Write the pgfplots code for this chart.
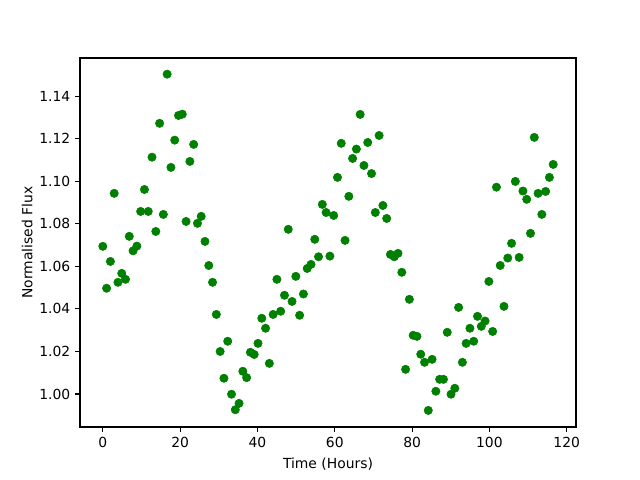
\documentclass[border=0pt]{standalone}
\usepackage{fontspec}
\setmainfont{DejaVu Sans}
\usepackage{pgfplots}
\pgfplotsset{compat=1.18}
\definecolor{mplgreen}{HTML}{008000}
\begin{document}
\fontsize{10}{12}\selectfont
\begin{tikzpicture}
\begin{axis}[
  scale only axis,
  width=357.12pt, height=265.68pt,
  xmin=-5.9, xmax=122.4,
  ymin=0.9845, ymax=1.1579,
  xtick={0,20,40,60,80,100,120},
  ytick={1.00,1.02,1.04,1.06,1.08,1.10,1.12,1.14},
  yticklabel style={/pgf/number format/.cd,fixed,fixed zerofill,precision=2},
  /pgf/number format/assume math mode=true,
  tick align=outside,
  xtick pos=left, ytick pos=left,
  major tick length=3.5pt,
  every tick/.style={black, line width=0.8pt},
  axis line style={line width=0.8pt},
  xlabel={Time (Hours)},
  ylabel={Normalised Flux},
  tick label style={font=\fontsize{10}{12}\selectfont},
  label style={font=\fontsize{10}{12}\selectfont},
  xlabel style={yshift=-0.5pt},
  ylabel style={yshift=-2pt},
]
\addplot[only marks, mark=*, mark size=3pt, color=mplgreen, mark options={draw=mplgreen, fill=mplgreen}] coordinates {
(0.00,1.0694) (0.98,1.0497) (1.96,1.0623) (2.94,1.0943) (3.92,1.0525)
(4.90,1.0567) (5.87,1.0539) (6.85,1.0741) (7.83,1.0673) (8.81,1.0695)
(9.79,1.0858) (10.77,1.0961) (11.75,1.0858) (12.73,1.1113) (13.71,1.0764)
(14.69,1.1272) (15.66,1.0844) (16.64,1.1503) (17.62,1.1065) (18.60,1.1193)
(19.58,1.1309) (20.56,1.1315) (21.54,1.0811) (22.52,1.1093) (23.50,1.1173)
(24.48,1.0802) (25.45,1.0835) (26.43,1.0717) (27.41,1.0604) (28.39,1.0525)
(29.37,1.0374) (30.35,1.0200) (31.33,1.0074) (32.31,1.0248) (33.29,0.9999)
(34.27,0.9926) (35.24,0.9956) (36.22,1.0107) (37.20,1.0077) (38.18,1.0196)
(39.16,1.0186) (40.14,1.0238) (41.12,1.0356) (42.10,1.0309) (43.08,1.0144)
(44.06,1.0374) (45.03,1.0539) (46.01,1.0389) (46.99,1.0464) (47.97,1.0774)
(48.95,1.0435) (49.93,1.0553) (50.91,1.0370) (51.89,1.0470) (52.87,1.0590)
(53.85,1.0609) (54.82,1.0727) (55.80,1.0645) (56.78,1.0891) (57.76,1.0853)
(58.74,1.0648) (59.72,1.0839) (60.70,1.1018) (61.68,1.1178) (62.66,1.0722)
(63.64,1.0929) (64.61,1.1107) (65.59,1.1151) (66.57,1.1314) (67.55,1.1074)
(68.53,1.1182) (69.51,1.1036) (70.49,1.0853) (71.47,1.1215) (72.45,1.0886)
(73.43,1.0825) (74.40,1.0656) (75.38,1.0645) (76.36,1.0661) (77.34,1.0572)
(78.32,1.0116) (79.30,1.0445) (80.28,1.0276) (81.26,1.0271) (82.24,1.0187)
(83.22,1.0149) (84.19,0.9923) (85.17,1.0163) (86.15,1.0013) (87.13,1.0069)
(88.11,1.0069) (89.09,1.0290) (90.07,0.9999) (91.05,1.0027) (92.03,1.0407)
(93.01,1.0149) (93.98,1.0238) (94.96,1.0309) (95.94,1.0248) (96.92,1.0365)
(97.90,1.0318) (98.88,1.0343) (99.86,1.0529) (100.84,1.0294) (101.82,1.0972)
(102.80,1.0604) (103.77,1.0412) (104.75,1.0639) (105.73,1.0708) (106.71,1.0999)
(107.69,1.0642) (108.67,1.0954) (109.65,1.0915) (110.63,1.0755) (111.61,1.1206)
(112.59,1.0943) (113.56,1.0844) (114.54,1.0952) (115.52,1.1018) (116.50,1.1079)
};
\end{axis}
\path ([xshift=-57.6pt,yshift=-38.16pt]current axis.south west) rectangle ([xshift=46.08pt,yshift=41.76pt]current axis.north east);
\end{tikzpicture}
\end{document}
